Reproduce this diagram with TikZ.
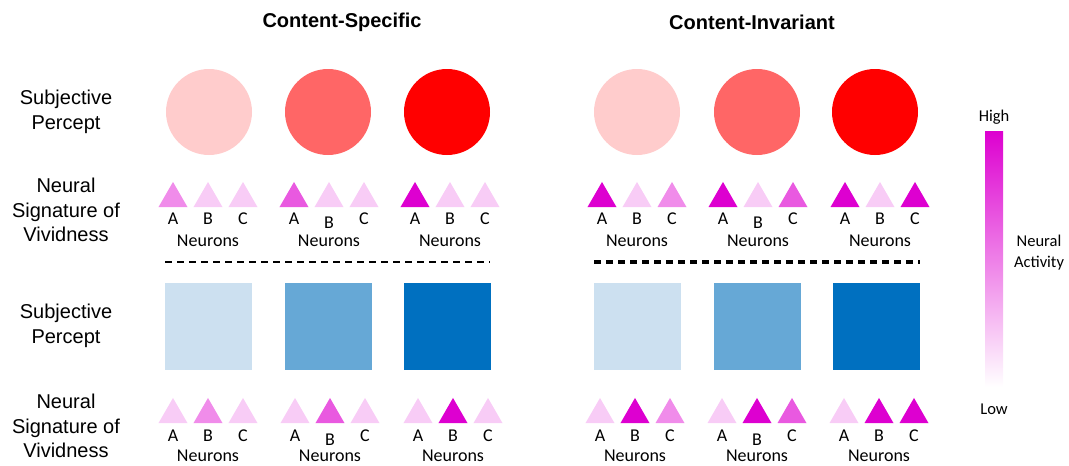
\documentclass[tikz,border=0pt]{standalone}
\usepackage{fontspec}
\setmainfont{Liberation Sans}
\newfontfamily\calibri{Carlito}
\usetikzlibrary{shapes.geometric}

\definecolor{vivmag}{RGB}{221,0,208}
\definecolor{redlo}{RGB}{255,204,204}
\definecolor{redmd}{RGB}{255,102,102}
\definecolor{redhi}{RGB}{255,0,0}
\definecolor{bluelo}{RGB}{204,224,240}
\definecolor{bluemd}{RGB}{102,168,214}
\definecolor{bluehi}{RGB}{0,112,192}

\begin{document}
\begin{tikzpicture}[x=1pt,y=-1pt,
        header/.style={font=\fontsize{20}{22}\selectfont\bfseries},
        rowlabel/.style={align=center, font=\fontsize{20}{24.5}\selectfont},
        percept/.style={circle, minimum size=86pt, inner sep=0pt},
        patch/.style={minimum size=87pt, inner sep=0pt},
        neuron/.style={regular polygon, regular polygon sides=3, minimum size=33.5pt, inner sep=0pt},
        letter/.style={font=\calibri\fontsize{18}{20}\selectfont, inner sep=0pt},
        scalelabel/.style={align=center, font=\calibri\fontsize{16.5}{21}\selectfont},
        divider/.style={dash pattern=on 7pt off 5pt}
    ]
    \useasboundingbox (0,0) rectangle (1069,466);

    % column headers
    \node[header] (spec) at (342,22) {Content-Specific};
    \node[header] (inv) at (752,22) {Content-Invariant};

    % row labels
    \node[rowlabel] (perc1) at (66,112) {Subjective\\Percept};
    \node[rowlabel] (sig1) at (66,210) {Neural\\Signature of\\Vividness};
    \node[rowlabel] (perc2) at (66,326) {Subjective\\Percept};
    \node[rowlabel] (sig2) at (66,426) {Neural\\Signature of\\Vividness};

    % percepts: circles and squares
    \node[percept, fill=redlo] (c1) at (209,112) {};
    \node[percept, fill=redmd] (c2) at (328,112) {};
    \node[percept, fill=redhi] (c3) at (447,112) {};
    \node[percept, fill=redlo] (c4) at (637,112) {};
    \node[percept, fill=redmd] (c5) at (757,112) {};
    \node[percept, fill=redhi] (c6) at (875,112) {};
    \node[patch, fill=bluelo] (s1) at (208,326) {};
    \node[patch, fill=bluemd] (s2) at (328,326) {};
    \node[patch, fill=bluehi] (s3) at (447,326) {};
    \node[patch, fill=bluelo] (s4) at (637,326) {};
    \node[patch, fill=bluemd] (s5) at (757,326) {};
    \node[patch, fill=bluehi] (s6) at (876,326) {};

    % neuron triangles
    \foreach \gx/\ty/\ly/\ny/\a/\b/\c/\bd/\id in {
            208/198.7/219/241/45/20/20/0/ta1, 329/198.7/219/241/65/20/20/4/ta2, 450/198.7/219/241/100/20/20/0/ta3,
            637/198.7/219/241/100/20/45/0/ta4, 758/198.7/219/241/100/20/65/4/ta5, 880/198.7/219/241/100/20/100/0/ta6,
            208/414.7/436/456/20/45/20/0/tb1, 330/414.7/436/456/20/65/20/4/tb2, 453/414.7/436/456/20/100/20/0/tb3,
            635/414.7/436/456/20/100/45/0/tb4, 757/414.7/436/456/20/100/65/4/tb5, 879/414.7/436/456/20/100/100/0/tb6} {
        \node[neuron, fill=vivmag!\a] (\id-A) at (\gx-35,\ty) {};
        \node[neuron, fill=vivmag!\b] (\id-B) at (\gx,\ty) {};
        \node[neuron, fill=vivmag!\c] (\id-C) at (\gx+35,\ty) {};
        \node[letter] (\id-la) at (\gx-35,\ly) {A};
        \node[letter] (\id-lb) at (\gx,\ly+\bd) {B};
        \node[letter] (\id-lc) at (\gx+35,\ly) {C};
        \node[letter] (\id-n) at (\gx,\ny) {Neurons};
    }

    % dividers
    \coordinate (d1) at (165,262);
    \coordinate (d2) at (490,262);
    \coordinate (d3) at (594,262);
    \coordinate (d4) at (920,262);
    \draw[divider, line width=2.5pt] (d1) -- (d2);
    \draw[divider, line width=3.2pt] (d3) -- (d4);

    % activity scale
    \node[minimum width=18pt, minimum height=255pt, inner sep=0pt,
        top color=vivmag, bottom color=white] (bar) at (994,259) {};
    \node[scalelabel] (high) at (994,117) {High};
    \node[scalelabel] (low) at (994,409) {Low};
    \node[scalelabel] (act) at (1039,253) {Neural\\Activity};
\end{tikzpicture}
\end{document}
